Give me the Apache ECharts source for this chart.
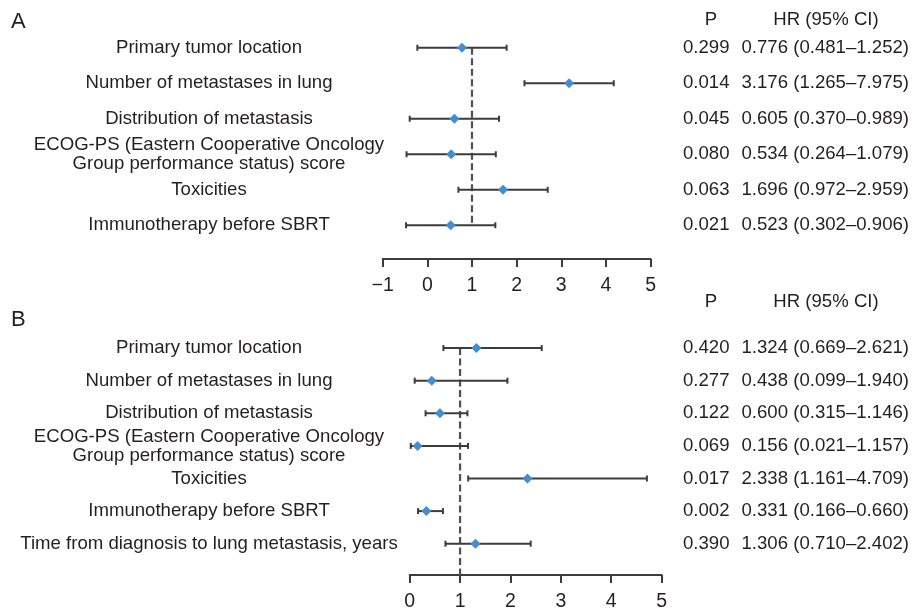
<!DOCTYPE html>
<html>
<head>
<meta charset="utf-8">
<script src="https://cdn.jsdelivr.net/npm/echarts@6/dist/echarts.min.js"></script>
<style>html,body{margin:0;padding:0;background:#fff}#c{width:912px;height:612px}</style>
</head>
<body>
<div id="c"></div>
<script>
// ---------- Data ----------
const labelsA = [
  'Primary tumor location',
  'Number of metastases in lung',
  'Distribution of metastasis',
  'ECOG-PS (Eastern Cooperative Oncology\nGroup performance status) score',
  'Toxicities',
  'Immunotherapy before SBRT'
];
const pA     = ['0.299', '0.014', '0.045', '0.080', '0.063', '0.021'];
const hrA    = [0.776, 3.176, 0.605, 0.534, 1.696, 0.523];
const ciLoA  = [0.481, 1.265, 0.370, 0.264, 0.972, 0.302];
const ciHiA  = [1.252, 7.975, 0.989, 1.079, 2.959, 0.906];
// whisker ends as drawn in panel A
const drawLoA = [-0.224, 2.176, -0.395, -0.466, 0.696, -0.477];
const drawHiA = [1.776, 4.176, 1.605, 1.534, 2.696, 1.523];
const ticksA = [-1, 0, 1, 2, 3, 4, 5];

const labelsB = [
  'Primary tumor location',
  'Number of metastases in lung',
  'Distribution of metastasis',
  'ECOG-PS (Eastern Cooperative Oncology\nGroup performance status) score',
  'Toxicities',
  'Immunotherapy before SBRT',
  'Time from diagnosis to lung metastasis, years'
];
const pB    = ['0.420', '0.277', '0.122', '0.069', '0.017', '0.002', '0.390'];
const hrB   = [1.324, 0.438, 0.600, 0.156, 2.338, 0.331, 1.306];
const ciLoB = [0.669, 0.099, 0.315, 0.021, 1.161, 0.166, 0.710];
const ciHiB = [2.621, 1.940, 1.146, 1.157, 4.709, 0.660, 2.402];
const ticksB = [0, 1, 2, 3, 4, 5];
const refValue = 1;

// ---------- Helpers ----------
const FONT = '"Liberation Sans", Arial, Helvetica, sans-serif';
const TXT = '#231f20';
const LINE = '#3c3c3c';
const BLUE = '#3f8fd2';
const fmt = v => v.toFixed(3);
const hrText = (h, l, u) => h.map((v, i) => `${fmt(v)} (${fmt(l[i])}\u2013${fmt(u[i])})`);

const gridA = {left: 382.7, width: 269.6, top: 30, height: 213};
const gridB = {left: 409.7, width: 253.6, top: 331.8, height: 231.5};
const offA = 16, offB = 15;
const labelCenterX = 209;
const pCenterX = 708, hrCenterX = 827;

function catAxis(grid, gi, data, side, margin) {
  return {
    type: 'category', gridIndex: gi, data: data, inverse: true, position: side,
    axisLine: {show: false}, axisTick: {show: false}, splitLine: {show: false},
    axisLabel: {margin: margin, align: 'center', verticalAlign: 'middle',
      color: TXT, fontFamily: FONT, fontSize: 18.6, lineHeight: 19, interval: 0}
  };
}
function valAxis(gi, ticks, off) {
  return {
    type: 'value', gridIndex: gi, min: ticks[0], max: ticks[ticks.length - 1], interval: 1,
    offset: off, splitLine: {show: false},
    axisLine: {show: true, lineStyle: {color: LINE, width: 2}},
    axisTick: {show: true, length: 8, lineStyle: {color: LINE, width: 2}},
    axisLabel: {margin: 17, color: TXT, fontFamily: FONT, fontSize: 19.5,
      formatter: v => String(v).replace('-', '\u2212')}
  };
}
function whiskers(xi, yi, lo, hi) {
  return {
    type: 'custom', xAxisIndex: xi, yAxisIndex: yi, z: 3,
    data: lo.map((l, i) => [i, l, hi[i]]),
    encode: {x: [1, 2], y: 0},
    renderItem: (params, api) => {
      const a = api.coord([api.value(1), api.value(0)]);
      const b = api.coord([api.value(2), api.value(0)]);
      const st = {stroke: LINE, lineWidth: 2};
      return {type: 'group', children: [
        {type: 'line', shape: {x1: a[0], y1: a[1], x2: b[0], y2: b[1]}, style: st},
        {type: 'line', shape: {x1: a[0], y1: a[1] - 3, x2: a[0], y2: a[1] + 3}, style: st},
        {type: 'line', shape: {x1: b[0], y1: b[1] - 3, x2: b[0], y2: b[1] + 3}, style: st}
      ]};
    }
  };
}
function refLine(xi, yi, n, extend) {
  return {
    type: 'custom', xAxisIndex: xi, yAxisIndex: yi, z: 2,
    data: [[refValue, 0, n - 1]],
    renderItem: (params, api) => {
      const a = api.coord([api.value(0), api.value(1)]);
      const b = api.coord([api.value(0), api.value(2)]);
      const cs = params.coordSys;
      const y2 = extend ? cs.y + cs.height + extend : b[1];
      return {type: 'line', shape: {x1: a[0], y1: a[1], x2: b[0], y2: y2},
        style: {stroke: '#505050', lineWidth: 2.2, lineDash: [7, 3.5]}};
    }
  };
}
function diamonds(xi, yi, hr) {
  return {
    type: 'scatter', xAxisIndex: xi, yAxisIndex: yi, z: 5,
    symbol: 'diamond', symbolSize: [10, 10],
    itemStyle: {color: BLUE, opacity: 1},
    data: hr.map((v, i) => [v, i])
  };
}
const headerStyle = {fill: TXT, font: `18.6px ${FONT}`, textAlign: 'center', textVerticalAlign: 'middle'};

const chart = echarts.init(document.getElementById('c'), null, {renderer: 'canvas'});
chart.setOption({
  animation: false,
  backgroundColor: '#fff',
  grid: [gridA, gridB],
  xAxis: [valAxis(0, ticksA, offA), valAxis(1, ticksB, offB)],
  yAxis: [
    catAxis(gridA, 0, labelsA, 'left', gridA.left - labelCenterX),
    catAxis(gridA, 0, pA, 'right', pCenterX - (gridA.left + gridA.width)),
    catAxis(gridA, 0, hrText(hrA, ciLoA, ciHiA), 'right', hrCenterX - (gridA.left + gridA.width)),
    catAxis(gridB, 1, labelsB, 'left', gridB.left - labelCenterX),
    catAxis(gridB, 1, pB, 'right', pCenterX - (gridB.left + gridB.width)),
    catAxis(gridB, 1, hrText(hrB, ciLoB, ciHiB), 'right', hrCenterX - (gridB.left + gridB.width))
  ],
  series: [
    refLine(0, 0, labelsA.length, 0),
    whiskers(0, 0, drawLoA, drawHiA),
    diamonds(0, 0, hrA),
    refLine(1, 3, labelsB.length, offB),
    whiskers(1, 3, ciLoB, ciHiB),
    diamonds(1, 3, hrB)
  ],
  graphic: [
    {type: 'text', left: 11, top: 11, style: {text: 'A', fill: TXT, font: `22px ${FONT}`}},
    {type: 'text', left: 11, top: 309, style: {text: 'B', fill: TXT, font: `22px ${FONT}`}},
    {type: 'text', x: 711, y: 20, style: Object.assign({text: 'P'}, headerStyle)},
    {type: 'text', x: 826, y: 20, style: Object.assign({text: 'HR (95% CI)'}, headerStyle)},
    {type: 'text', x: 711, y: 302, style: Object.assign({text: 'P'}, headerStyle)},
    {type: 'text', x: 826, y: 302, style: Object.assign({text: 'HR (95% CI)'}, headerStyle)}
  ]
});
</script>
</body>
</html>
